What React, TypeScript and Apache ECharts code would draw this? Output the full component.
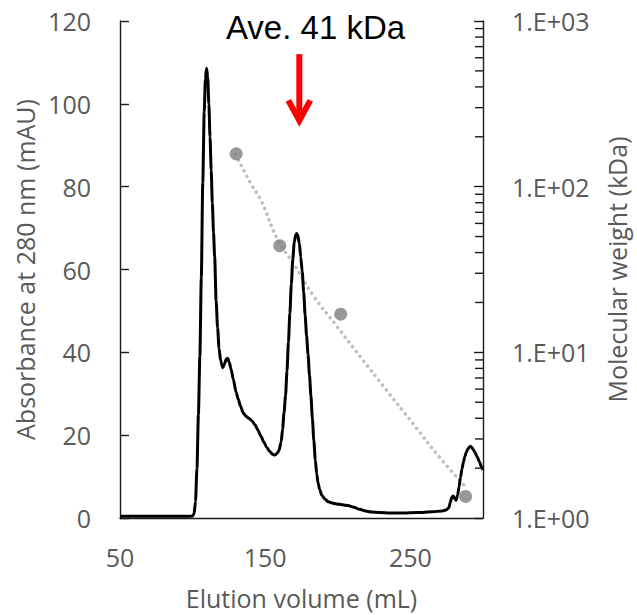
import React, { useEffect, useRef } from "react";
import * as echarts from "echarts";

// Chromatogram (elution volume in mL, absorbance at 280 nm in mAU)
const elutionVolume = [
  50, 70, 90, 98, 100, 101, 102, 103, 104, 105, 106, 107, 108, 108.8, 109.6, 110.4, 111.2, 112, 112.8, 113.6,
  114.4, 115.2, 116.2, 117.2, 118.2, 119.3, 120.8, 122, 123.2, 124.2, 125.2, 126.5, 128, 130, 131.5, 133, 135,
  137, 139, 141, 143, 145, 147, 149, 151, 153, 155, 156.5, 158, 159.5, 161, 162, 163, 164, 165, 166, 167, 168,
  169, 170, 171, 171.7, 172.5, 173.5, 174.5, 175.5, 176.5, 177.5, 178.5, 179.5, 180.5, 181.5, 182.5, 183.5,
  184.5, 185.5, 186.5, 187.5, 189, 191, 193.5, 196, 199, 203, 207, 211, 215, 219, 223, 229, 236, 245, 255, 265,
  272, 275, 276.5, 277.5, 278.5, 279.5, 280.5, 281.5, 282.5, 283.5, 284.5, 285.5, 286.5, 287.5, 288.5, 289.5,
  290.5, 291.3, 292.2, 293.2, 294.5, 296, 297.5, 299, 300,
];
const absorbance = [
  0.4, 0.4, 0.4, 0.4, 0.5, 1, 4, 12, 25, 39, 58, 81, 98, 106, 108.6, 106.5, 100, 92, 84, 76,
  69, 63, 52.5, 46, 41, 38, 36.3, 37.2, 38.4, 38.6, 37.6, 36, 33.5, 30.3, 28.6, 27, 25.3,
  24.5, 24, 23.4, 22.5, 21.2, 19.8, 18.4, 17.1, 16.1, 15.4, 15.2, 15.5, 16.3, 18.4, 21.5, 25.5, 29.5, 35.5, 42.5, 49.5, 56.5,
  62.5, 66.5, 68.3, 68.7, 68.2, 66.3, 63, 59.5, 54.5, 49, 44, 39.5, 34.5, 29.5, 24, 18.7,
  14, 10.6, 8.3, 6.9, 5.5, 4.6, 3.9, 3.6, 3.4, 3.2, 3.0, 2.6, 2.1, 1.7, 1.45, 1.3, 1.2, 1.2, 1.3, 1.5,
  1.7, 2, 2.5, 3.8, 5, 5.3, 4.7, 4.3, 5.5, 7.5, 9.8, 11.8, 13.5, 14.8, 15.9, 16.6,
  17.1, 17.3, 17.1, 16.6, 15.8, 14.8, 13.6, 12.3, 11.6,
];

// Molecular weight standards (elution volume mL, kDa)
const standardVolume = [130, 160, 202, 288];
const standardMW = [158, 44, 17, 1.35];

// Calibration trend line
const trendVolume = [129.7, 140, 147.4, 158.7, 170, 183.6, 199.5, 215.3, 233.4, 251.6, 269.6, 287.8];
const trendMW = [156, 105, 81.5, 47.8, 33.8, 21.7, 14.3, 9.44, 5.93, 3.73, 2.35, 1.55];

// Axes
const xMin = 50;
const xMax = 300;
const xInterval = 100;
const absMin = 0;
const absMax = 120;
const absInterval = 20;
const mwMin = 1;
const mwMax = 1000;

// Annotation
const annotationText = "Ave. 41 kDa";
const arrowVolume = 173.5;
const arrowTopAbs = 112;
const arrowTipAbs = 96;

export default function App() {
  const ref = useRef<HTMLDivElement>(null);

  useEffect(() => {
    const chart = echarts.init(ref.current as HTMLDivElement, null, { renderer: "svg" });
    const axisFont = "'Open Sans', sans-serif";
    const gray = "#595959";
    const axisLineStyle = { color: "#1a1a1a", width: 1.4 };
    const labelStyle = { color: gray, fontSize: 25, fontFamily: axisFont };

    const chromData = elutionVolume.map((v, i) => [v, absorbance[i]]);
    const standards = standardVolume.map((v, i) => [v, standardMW[i]]);
    const trend = trendVolume.map((v, i) => [v, trendMW[i]]);

    chart.setOption({
      animation: false,
      grid: { left: 120, right: 148, top: 21, bottom: 97, containLabel: false },
      xAxis: {
        type: "value",
        min: xMin,
        max: xMax,
        interval: xInterval,
        axisLine: { show: true, lineStyle: axisLineStyle },
        axisTick: { show: false },
        splitLine: { show: false },
        axisLabel: { ...labelStyle, margin: 26, showMaxLabel: false },
        name: "Elution volume (mL)",
        nameLocation: "middle",
        nameGap: 67,
        nameTextStyle: labelStyle,
      },
      yAxis: [
        {
          type: "value",
          min: absMin,
          max: absMax,
          interval: absInterval,
          position: "left",
          axisLine: { show: true, lineStyle: axisLineStyle },
          axisTick: { show: true, inside: true, length: 9, lineStyle: axisLineStyle },
          splitLine: { show: false },
          axisLabel: { ...labelStyle, margin: 29 },
          name: "Absorbance at 280 nm (mAU)",
          nameLocation: "middle",
          nameGap: 82,
          nameTextStyle: labelStyle,
        },
        {
          type: "log",
          logBase: 10,
          min: mwMin,
          max: mwMax,
          splitNumber: 3,
          position: "right",
          axisLine: { show: true, lineStyle: axisLineStyle },
          axisTick: { show: true, inside: true, length: 9, lineStyle: axisLineStyle },
          splitLine: { show: false },
          axisLabel: {
            ...labelStyle,
            margin: 29,
            formatter: (v: number) => "1.E+" + String(Math.round(Math.log10(v))).padStart(2, "0"),
          },
          name: "Molecular weight (kDa)",
          nameLocation: "middle",
          nameGap: 121,
          nameTextStyle: labelStyle,
        },
      ],
      series: [
        {
          type: "line",
          xAxisIndex: 0,
          yAxisIndex: 0,
          data: chromData,
          showSymbol: false,
          smooth: 0.25,
          smoothMonotone: "x",
          lineStyle: { color: "#000", width: 3 },
          z: 3,
        },
        {
          type: "line",
          xAxisIndex: 0,
          yAxisIndex: 1,
          data: trend,
          showSymbol: false,
          smooth: true,
          lineStyle: { color: "#BFBFBF", width: 3.5, type: [0.1, 6], cap: "round" },
          z: 2,
        },
        {
          type: "scatter",
          xAxisIndex: 0,
          yAxisIndex: 1,
          data: standards,
          symbolSize: 13,
          itemStyle: { color: "#808080" },
          z: 4,
        },
      ],
    });

    // Minor ticks on the log axis, and the annotation arrow
    const xRight = chart.convertToPixel({ xAxisIndex: 0 }, xMax) as number;
    const minorTicks: any[] = [];
    for (let d = 1; d < mwMax; d *= 10) {
      for (let k = 2; k <= 9; k++) {
        const y = chart.convertToPixel({ yAxisIndex: 1 }, k * d) as number;
        minorTicks.push({
          type: "line",
          shape: { x1: xRight - 8, y1: y, x2: xRight, y2: y },
          style: { stroke: "#1a1a1a", lineWidth: 1.4 },
          silent: true,
        });
      }
    }
    const top = chart.convertToPixel({ seriesIndex: 0 }, [arrowVolume, arrowTopAbs]) as number[];
    const tip = chart.convertToPixel({ seriesIndex: 0 }, [arrowVolume, arrowTipAbs]) as number[];

    chart.setOption({
      graphic: [
        ...minorTicks,
        {
          type: "line",
          shape: { x1: top[0], y1: top[1], x2: tip[0], y2: tip[1] - 2 },
          style: { stroke: "#FF0000", lineWidth: 6 },
          silent: true,
        },
        {
          type: "polyline",
          shape: {
            points: [
              [tip[0] - 11, tip[1] - 20],
              [tip[0], tip[1]],
              [tip[0] + 11, tip[1] - 20],
            ],
          },
          style: { stroke: "#FF0000", lineWidth: 6, fill: "none", lineJoin: "miter" },
          silent: true,
        },
        {
          type: "text",
          x: 315.5,
          y: 27,
          style: {
            text: annotationText,
            fill: "#000",
            fontSize: 33,
            fontFamily: "'Liberation Sans', Arial, sans-serif",
            textAlign: "center",
            textVerticalAlign: "middle",
          },
          silent: true,
        },
      ],
    });

    return () => {
      chart.dispose();
    };
  }, []);

  return (
    <div
      ref={ref}
      style={{ position: "fixed", left: 0, top: 0, width: 637, height: 615, background: "#fff" }}
    />
  );
}
